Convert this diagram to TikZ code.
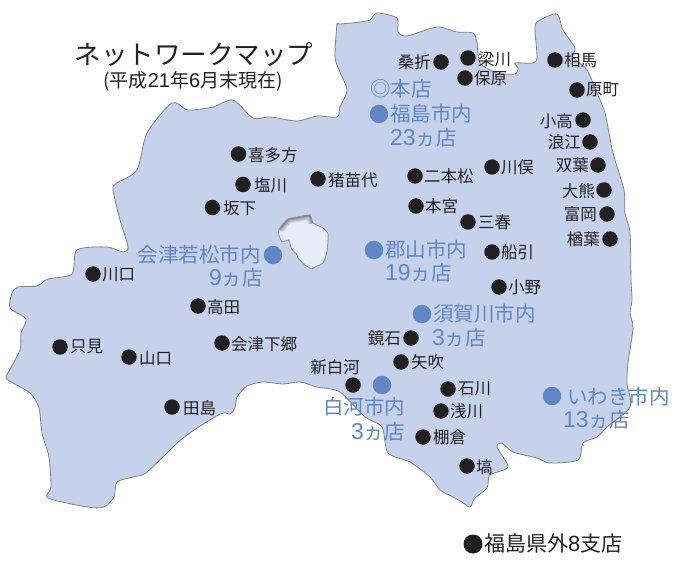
\documentclass[tikz,border=0pt]{standalone}
\usepackage{fontspec}
\setmainfont{Noto Sans CJK JP}
\newfontfamily\digitfont{Liberation Sans}
\newcommand{\dg}[2]{{\digitfont\fontsize{#1bp}{#1bp}\selectfont #2}}
\tikzset{
 x=1bp,y=-1bp,
 citydot/.style={circle,fill=dotblack,inner sep=0pt,minimum size=15.5bp},
 largedot/.style={circle,fill=dotblack,inner sep=0pt,minimum size=19bp},
 bluedot/.style={circle,fill=dotblue,inner sep=0pt,minimum size=18.5bp},
 citylabel/.style={inner sep=0pt,text=dotblack,font=\fontsize{16.5bp}{18bp}\selectfont},
 bluelabel/.style={inner sep=0pt,text=dotblue,font=\fontsize{20.5bp}{22bp}\selectfont},
 biglabel/.style={inner sep=0pt,text=dotblack,font=\fontsize{21bp}{23bp}\selectfont},
 maptitle/.style={inner sep=0pt,text=dotblack,font=\fontsize{26.5bp}{28bp}\selectfont},
 mapsub/.style={inner sep=0pt,text=dotblack,font=\fontsize{19bp}{20bp}\selectfont},
}
\definecolor{dotblack}{HTML}{231F20}
\definecolor{dotblue}{HTML}{5F87C6}
\definecolor{mapfill}{HTML}{C6D1EB}
\definecolor{lakefill}{HTML}{E8ECF7}
\newcommand{\cityR}[4]{\node[citydot] (#1) at (#2) {}; \node[citylabel,anchor=west] (#1t) at (#3) {#4};}
\newcommand{\cityL}[4]{\node[citydot] (#1) at (#2) {}; \node[citylabel,anchor=east] (#1t) at (#3) {#4};}
\def\prefpath{plot[smooth,tension=0.45] coordinates {
(337,23)(340,24)(360,22)(370,20)(377,13)(397,18)(398,32)(407,36)(437,27)(457,32)(473,33)(477,43)(480,63)(497,73)(515,74)(518,68)(515,63)(533,63)(537,57)(535,27)(540,20)(557,14)(563,30)(575,48)(573,57)(587,70)(597,93)(605,113)(613,153)(624,190)(625,213)(630,233)(631,280)(632,300)(630,313)(633,328)(628,363)(627,383)(630,407)(607,427)(597,437)(583,443)(578,460)(550,463)(537,458)(513,452)(502,443)(497,447)(508,467)(490,475)(487,488)(475,498)(470,507)(462,502)(453,497)(440,490)(430,477)(410,462)(388,453)(382,427)(365,417)(340,392)(317,387)(300,382)(283,384)(263,382)(247,386)(237,397)(235,408)(230,414)(220,414)(183,438)(147,472)(133,477)(117,482)(114,497)(104,507)(87,507)(48,498)(51,487)(49,457)(42,433)(39,408)(30,393)(8,380)(7,375)(20,350)(21,333)(26,319)(10,308)(12,293)(18,287)(37,286)(48,279)(72,274)(77,250)(107,247)(123,252)(128,247)(120,220)(113,190)(117,183)(137,170)(147,133)(172,103)(188,110)(213,107)(233,100)(253,118)(270,117)(297,121)(317,116)(337,117)(340,107)(347,90)(340,72)(335,57)(337,23)}}
\def\lakepath{plot[smooth cycle,tension=0.3] coordinates {
(279,229)(288,219)(298,217)(310,215)(313,223)(323,228)(328,234)(327,252)(323,263)(315,267)(312,269)(305,265)(298,258)(297,255)(291,248)(289,240)(282,242)(279,235)}}
\begin{document}
\begin{tikzpicture}
\useasboundingbox (0,0) rectangle (677,561);
\fill[white] (0,0) rectangle (677,561);
\draw[fill=mapfill,draw=gray,line width=0.8bp] \prefpath;
\begin{scope}
\clip \lakepath;
\fill[lakefill] (270,205) rectangle (340,275);
\foreach \d/\o in {10/10,8/16,6/24,4/34,2/48}{
  \draw[black!\o!lakefill,line width=\d bp] plot[smooth,tension=0.3] coordinates {(279,229)(288,219)(298,217)(310,215)(313,223)};
}
\end{scope}
\draw[gray!85,line width=0.9bp] \lakepath;

\node[maptitle] (title) at (194,54) {ネットワークマップ};
\node[mapsub] (subtitle) at (193,81) {(平成\dg{20}{21}年\dg{20}{6}月末現在)};

\cityR{kitakata}{238.5,154}{248,155}{喜多方}
\cityR{shiokawa}{243,184.5}{254,185}{塩川}
\cityR{bange}{212.5,207.5}{223,208}{坂下}
\cityR{inawashiro}{318,179}{328,180}{猪苗代}
\cityR{kawaguchi}{93,274}{102,275}{川口}
\cityL{koori}{441,62}{431,62}{桑折}
\cityR{yanagawa}{468,58}{478,59}{梁川}
\cityR{hobara}{465,78}{474,78}{保原}
\cityR{soma}{555,60}{564,60}{相馬}
\cityR{haramachi}{577,90}{586,90}{原町}
\cityL{odaka}{583,120}{573,121}{小高}
\cityL{namie}{590,142}{581,142}{浪江}
\cityL{futaba}{598,165}{589,165}{双葉}
\cityL{okuma}{604,190}{595,191}{大熊}
\cityL{tomioka}{607,214}{597,214}{富岡}
\cityL{naraha}{610,239}{600,239}{楢葉}
\cityR{kawamata}{492,167}{501,167}{川俣}
\cityR{nihonmatsu}{415,176}{424,176}{二本松}
\cityR{motomiya}{416,206}{425,206}{本宮}
\cityR{miharu}{468,222}{478,222}{三春}
\cityR{funehiki}{492,252}{501,252}{船引}
\cityR{ono}{499,287}{508,287}{小野}
\cityL{kagamiishi}{411,338}{401,338}{鏡石}
\cityR{yabuki}{401,362}{411,362}{矢吹}
\node[citydot] (shinshirakawa) at (353,385) {};
\node[citylabel] (shinshirakawat) at (335,367) {新白河};
\cityR{ishikawa}{448,389}{458,389}{石川}
\cityR{asakawa}{441,411}{450,411}{浅川}
\cityR{tanagura}{423,437}{433,437}{棚倉}
\cityR{hanawa}{467,466}{476,467}{塙}
\cityR{takada}{198,306}{207,307}{高田}
\cityR{tadami}{60,347}{70,347}{只見}
\cityR{yamaguchi}{129,357}{139,358}{山口}
\cityR{shimogo}{222,343}{231,344}{会津下郷}
\cityR{tajima}{172,407}{183,408}{田島}
\node[largedot] (outside) at (473,544) {};
\node[biglabel,anchor=west] (outsidet) at (484,544) {福島県外\dg{22}{8}支店};

\node[bluelabel,anchor=west] (honten) at (370,89) {◎本店};
\node[bluedot] (fukushima) at (379,114) {};
\node[bluelabel,anchor=west] (fukushimat) at (390,114) {福島市内};
\node[bluelabel,anchor=west] (fukushiman) at (390,138) {\dg{23}{23}ヵ店};
\node[bluedot] (aizu) at (273,255) {};
\node[bluelabel,anchor=east] (aizut) at (261,255) {会津若松市内};
\node[bluelabel] (aizun) at (236,278) {\dg{23}{9}ヵ店};
\node[bluedot] (koriyama) at (374,250) {};
\node[bluelabel,anchor=west] (koriyamat) at (385,250) {郡山市内};
\node[bluelabel,anchor=west] (koriyaman) at (385,273) {\dg{23}{19}ヵ店};
\node[bluedot] (sukagawa) at (422,314) {};
\node[bluelabel,anchor=west] (sukagawat) at (433,314) {須賀川市内};
\node[bluelabel,anchor=west] (sukagawan) at (432,338) {\dg{23}{3}ヵ店};
\node[bluedot] (shirakawa) at (382,385) {};
\node[bluelabel] (shirakawat) at (364,407) {白河市内};
\node[bluelabel] (shirakawan) at (378,432) {\dg{23}{3}ヵ店};
\node[bluedot] (iwaki) at (552,396) {};
\node[bluelabel,anchor=west] (iwakit) at (567,397) {いわき市内};
\node[bluelabel,anchor=west] (iwakin) at (563,420) {\dg{23}{13}ヵ店};
\end{tikzpicture}
\end{document}
